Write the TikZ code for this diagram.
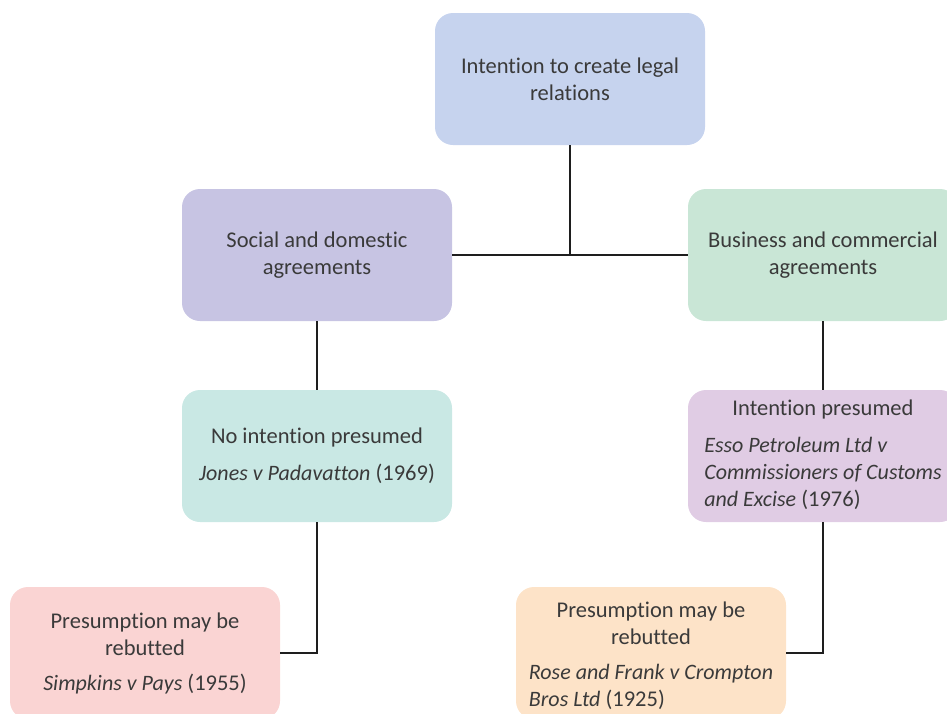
\documentclass[tikz,border=0pt]{standalone}
\usepackage{fontspec}
\setmainfont{Carlito}[Ligatures=NoCommon]
\newcommand{\headline}[1]{\multicolumn{1}{@{}c@{}}{#1}}
\newcommand{\casename}[1]{{\fontsize{22}{27}\selectfont\itshape #1}}
\begin{document}
\begin{tikzpicture}[x=1pt,y=-1pt,
  card/.style={draw=none, rounded corners=18pt, minimum width=270pt, minimum height=132pt,
    inner sep=0pt, align=center, font=\fontsize{22.5}{27}\selectfont, text=ink},
  link/.style={line width=2.5pt, draw=linkink}]
\definecolor{ink}{HTML}{3A3A3A}
\definecolor{linkink}{HTML}{1E1E1E}
\definecolor{cTop}{HTML}{C6D3EE}
\definecolor{cSoc}{HTML}{C7C4E3}
\definecolor{cBus}{HTML}{C9E6D6}
\definecolor{cNo}{HTML}{C9E8E4}
\definecolor{cYes}{HTML}{E0CCE4}
\definecolor{cPL}{HTML}{FAD4D3}
\definecolor{cPR}{HTML}{FDE3C8}
\useasboundingbox (0,0) rectangle (947,713);
\clip (0,0) rectangle (947,713);

\node[card, fill=cTop] (top) at (570,79) {Intention to create legal\\relations};
\node[card, fill=cSoc] (soc) at (317,255) {Social and domestic\\agreements};
\node[card, fill=cBus] (bus) at (823,255) {Business and commercial\\agreements};
\node[card, fill=cNo] (noint) at (317,456) {No intention presumed\\[10pt]\casename{Jones v Padavatton} (1969)};
\node[card, fill=cYes] (yes) at (823,456)
  {\begin{tabular}{@{}l@{}}
   \headline{Intention presumed}\\[10pt]
   \casename{Esso Petroleum Ltd v}\\
   \casename{Commissioners of Customs}\\
   \casename{and Excise} (1976)
   \end{tabular}};
\node[card, fill=cPL] (presL) at (145,653) {Presumption may be\\rebutted\\[8pt]\casename{Simpkins v Pays} (1955)};
\node[card, fill=cPR] (presR) at (651,653)
  {\raisebox{-4pt}[\height][\depth]{\begin{tabular}{@{}l@{}}
   \headline{Presumption may be}\\
   \headline{rebutted}\\[8pt]
   \casename{Rose and Frank v Crompton}\\
   \casename{Bros Ltd} (1925)
   \end{tabular}}};

\draw[link] (soc.east) -- (bus.west);
\draw[link] (top.south) -- (top.south |- soc.east);
\draw[link] (soc.south) -- (noint.north);
\draw[link] (bus.south) -- (yes.north);
\draw[link] (noint.south) |- (presL.east);
\draw[link] (yes.south) |- (presR.east);
\end{tikzpicture}
\end{document}
